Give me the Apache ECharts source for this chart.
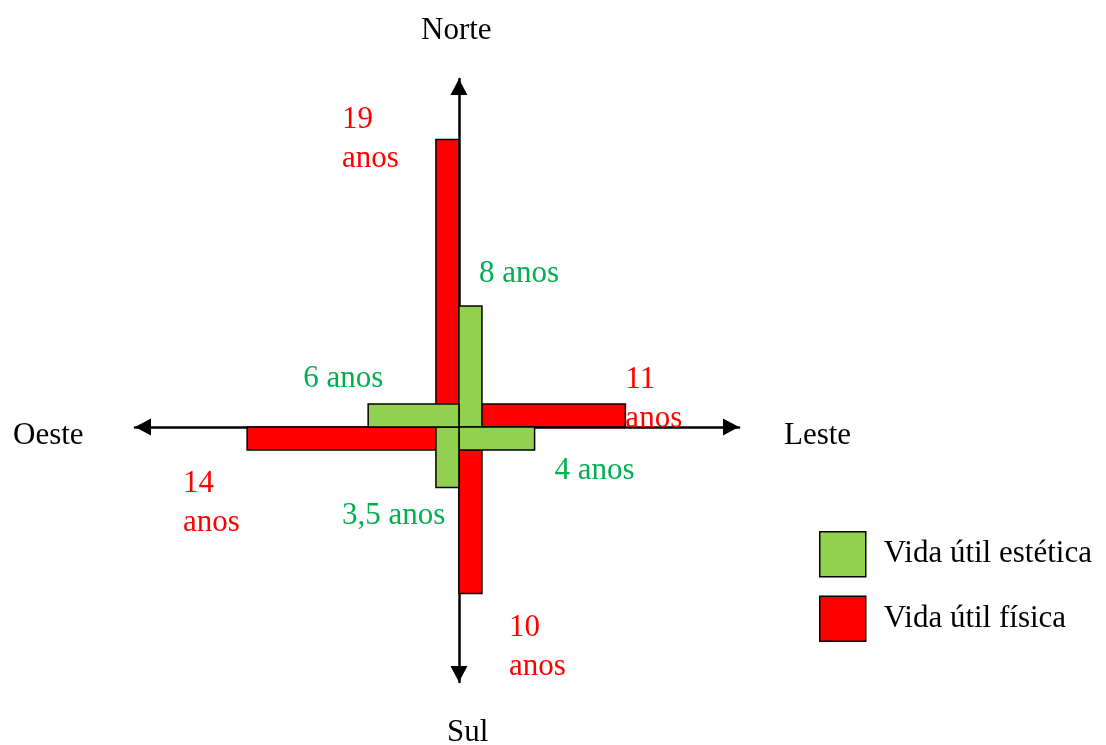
<!DOCTYPE html>
<html lang="pt">
<head>
<meta charset="utf-8">
<script src="https://cdn.jsdelivr.net/npm/echarts@6/dist/echarts.min.js"></script>
<style>
  html, body { margin: 0; padding: 0; background: #fff; }
  #chart { width: 1106px; height: 745px; }
</style>
</head>
<body>
<div id="chart"></div>
<script>
// directions in drawing order, unit vectors in data space
const directions = ["Norte", "Leste", "Sul", "Oeste"];
const dirVectors = [[0, 1], [1, 0], [0, -1], [-1, 0]];

// bar lengths as drawn (same scale on both axes)
const fisicaValues = [19, 11, 11, 14];
const esteticaValues = [8, 5, 4, 6];

// texts written next to the bars
const fisicaLabels = ["19\nanos", "11\nanos", "10\nanos", "14\nanos"];
const esteticaLabels = ["8 anos", "4 anos", "3,5 anos", "6 anos"];

const FONT = "Liberation Serif";
const RED = "#FF0000";
const GREEN = "#92D050";
const GREEN_TEXT = "#00B050";
const BAR_W = 23;

// label offsets (px) from the bar tip
const fisicaLabelOffsets = [[-117, -39], [0, -67], [50, 15], [-64, 37]];
const esteticaLabelOffsets = [[20, -52], [20, 24], [-117, 9], [-65, -68]];

function makeRender(side, color, labels, offsets, textColor) {
  return function (params, api) {
    const i = params.dataIndex;
    const dir = dirVectors[i];
    const v = api.value(1);
    const o = api.coord([0, 0]);
    const t = api.coord([dir[0] * v, dir[1] * v]);
    const nx = -dir[1] * side;
    const ny = dir[0] * side;
    const x2 = t[0] + nx * BAR_W;
    const y2 = t[1] - ny * BAR_W;
    return {
      type: "group",
      children: [
        {
          type: "rect",
          shape: {
            x: Math.min(o[0], x2),
            y: Math.min(o[1], y2),
            width: Math.abs(x2 - o[0]),
            height: Math.abs(y2 - o[1]),
          },
          style: { fill: color, stroke: "#000", lineWidth: 1.5 },
        },
        {
          type: "text",
          x: t[0] + offsets[i][0],
          y: t[1] + offsets[i][1],
          z2: 20,
          style: {
            text: labels[i],
            fill: textColor,
            fontSize: 31,
            fontFamily: FONT,
            lineHeight: 39,
            align: "left",
            verticalAlign: "top",
          },
        },
      ],
    };
  };
}

function dirText(text, x, y) {
  return {
    type: "text",
    left: x,
    top: y,
    style: { text, fill: "#000", fontSize: 31, fontFamily: FONT, lineHeight: 39 },
  };
}

const axisLine = {
  onZero: true,
  symbol: ["triangle", "triangle"],
  symbolSize: [17, 16],
  symbolOffset: [8, -8],
  lineStyle: { color: "#000", width: 2.5 },
};

const chart = echarts.init(document.getElementById("chart"), null, { renderer: "canvas" });
chart.setOption({
  animation: false,
  backgroundColor: "#fff",
  grid: { left: 135, right: 367, top: 79, bottom: 63 },
  xAxis: {
    type: "value",
    min: -21.41,
    max: 18.51,
    axisLine,
    axisTick: { show: false },
    axisLabel: { show: false },
    splitLine: { show: false },
  },
  yAxis: {
    type: "value",
    min: -16.85,
    max: 23.0,
    axisLine,
    axisTick: { show: false },
    axisLabel: { show: false },
    splitLine: { show: false },
  },
  legend: {
    orient: "vertical",
    left: 819,
    top: 531,
    padding: 0,
    itemWidth: 46,
    itemHeight: 45,
    itemGap: 18,
    selectedMode: false,
    icon: "rect",
    textStyle: { fontSize: 31, fontFamily: FONT, color: "#000", padding: [6, 0, 0, 13] },
    data: [
      { name: "Vida útil estética", itemStyle: { color: GREEN, borderColor: "#000", borderWidth: 1.5 } },
      { name: "Vida útil física", itemStyle: { color: RED, borderColor: "#000", borderWidth: 1.5 } },
    ],
  },
  graphic: [
    dirText("Norte", 421, 11),
    dirText("Sul", 447, 713),
    dirText("Oeste", 13, 416),
    dirText("Leste", 784, 416),
  ],
  series: [
    {
      name: "Vida útil física",
      type: "custom",
      clip: false,
      itemStyle: { color: RED },
      renderItem: makeRender(1, RED, fisicaLabels, fisicaLabelOffsets, RED),
      data: fisicaValues.map((v, i) => [i, v]),
    },
    {
      name: "Vida útil estética",
      type: "custom",
      clip: false,
      itemStyle: { color: GREEN },
      renderItem: makeRender(-1, GREEN, esteticaLabels, esteticaLabelOffsets, GREEN_TEXT),
      data: esteticaValues.map((v, i) => [i, v]),
    },
  ],
});
</script>
</body>
</html>
